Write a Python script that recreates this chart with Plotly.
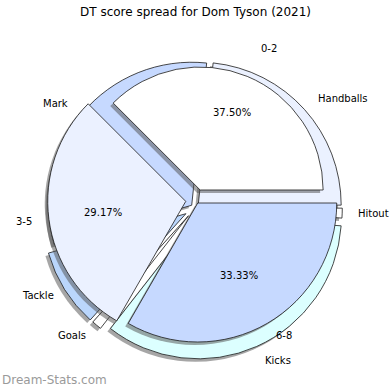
import math
import plotly.graph_objects as go

# ---------------- data ----------------
chart_title = "DT score spread for Dom Tyson (2021)"
watermark = "Dream-Stats.com"

group_labels = ["0-2", "3-5", "6-8"]
group_values = [9, 7, 8]            # 37.50%, 29.17%, 33.33%

stat_labels = ["Handballs", "Mark", "Tackle", "Goals", "Kicks", "Hitout"]
stat_values = [21, 28, 8, 1, 31, 1]

# ---------------- styles ----------------
group_colors = ["#ffffff", "#ebf1ff", "#c6d9ff"]
group_pull = [0.088, 0.075, 0.025]
group_radius = [123, 138, 139]       # px

stat_colors = ["#ebf1ff", "#c6d9ff", "#bad6fc", "#ffffff", "#dcffff", "#ffffff"]
stat_pull = [0.03, 0.03, 0.075, 0.07, 0.06, 0.03]
stat_label_r = [1.14, 1.14, 1.15, 1.16, 1.17, 1.13]

W = H = 390
OUT_C = (195, 208)
OUT_R = 143
IN_C = (196, 200)
SHADOW = (-3, 3)
SHADOW_COLOR = "rgba(77,77,77,0.5)"
EDGE = "#1a1a1a"
CLEAR = "rgba(0,0,0,0)"
FONT = "DejaVu Sans"


def domain(cx, cy, r, maxpull):
    half = r * (1 + maxpull)
    return dict(x=[(cx - half) / W, (cx + half) / W],
                y=[1 - (cy + half) / H, 1 - (cy - half) / H])


def mids(values):
    tot = sum(values)
    out, cum = [], 0
    for v in values:
        out.append((cum + v / 2) / tot * 360)
        cum += v
    return out


fig = go.Figure()


def add_pie(values, colors, widths, pulls, c, r, tag):
    first_angle = values[0] / sum(values) * 360
    fig.add_trace(go.Pie(
        values=values,
        labels=[f"{tag}{i}" for i in range(len(values))],
        sort=False,
        direction="counterclockwise",
        rotation=90 - first_angle,     # start at 3 o'clock, counter-clockwise
        pull=pulls,
        textinfo="none",
        hoverinfo="skip",
        showlegend=False,
        domain=domain(c[0], c[1], r, max(pulls)),
        marker=dict(colors=colors, line=dict(color=EDGE, width=widths)),
    ))


# outer ring (stat categories): shadow then wedges
n = len(stat_values)
add_pie(stat_values, [SHADOW_COLOR] * n, [0] * n, stat_pull,
        (OUT_C[0] + SHADOW[0], OUT_C[1] + SHADOW[1]), OUT_R, "so")
add_pie(stat_values, stat_colors, [0.8] * n, stat_pull, OUT_C, OUT_R, "o")

# inner pie (score groups): one trace per wedge so each wedge keeps its size
m = len(group_values)
for k in range(m):
    cols = [SHADOW_COLOR if i == k else CLEAR for i in range(m)]
    pulls = [group_pull[k] if i == k else 0 for i in range(m)]
    add_pie(group_values, cols, [0] * m, pulls,
            (IN_C[0] + SHADOW[0], IN_C[1] + SHADOW[1]), group_radius[k], f"si{k}_")
for k in range(m):
    cols = [group_colors[k] if i == k else CLEAR for i in range(m)]
    widths = [0.8 if i == k else 0 for i in range(m)]
    pulls = [group_pull[k] if i == k else 0 for i in range(m)]
    add_pie(group_values, cols, widths, pulls, IN_C, group_radius[k], f"i{k}_")

annotations = []


def text_at(px, py, text, xanchor="center", size=10, color="#000"):
    annotations.append(dict(
        x=px / W, y=1 - py / H, xref="paper", yref="paper",
        text=text, showarrow=False, xanchor=xanchor, yanchor="middle",
        font=dict(family=FONT, size=size, color=color),
    ))


# outer labels
for lab, lr, ang in zip(stat_labels, stat_label_r, mids(stat_values)):
    a = math.radians(ang)
    d = lr * OUT_R
    px = OUT_C[0] + d * math.cos(a)
    py = OUT_C[1] - d * math.sin(a)
    text_at(px, py, lab, "left" if math.cos(a) > 0 else "right")

# inner labels and percentages (measured from each wedge's apex)
tot = sum(group_values)
rmax = max(group_radius)
for lab, v, p, r, ang in zip(group_labels, group_values, group_pull,
                             group_radius, mids(group_values)):
    a = math.radians(ang)
    ax_ = IN_C[0] + p * r * math.cos(a)
    ay_ = IN_C[1] - p * r * math.sin(a)
    d = 1.1 * rmax
    text_at(ax_ + d * math.cos(a), ay_ - d * math.sin(a), lab,
            "left" if math.cos(a) > 0 else "right")
    d2 = 0.6 * rmax
    text_at(ax_ + d2 * math.cos(a), ay_ - d2 * math.sin(a), f"{100 * v / tot:.2f}%")

text_at(W / 2, 12, chart_title, size=12)
text_at(0, 380, watermark, "left", size=12, color="#9a9a9a")

fig.update_layout(
    width=W, height=H,
    margin=dict(l=0, r=0, t=0, b=0),
    paper_bgcolor="white", plot_bgcolor="white",
    annotations=annotations,
    showlegend=False,
)

fig.write_html("out.html", config={"displayModeBar": False},
               post_script="document.body.style.margin='0';")
